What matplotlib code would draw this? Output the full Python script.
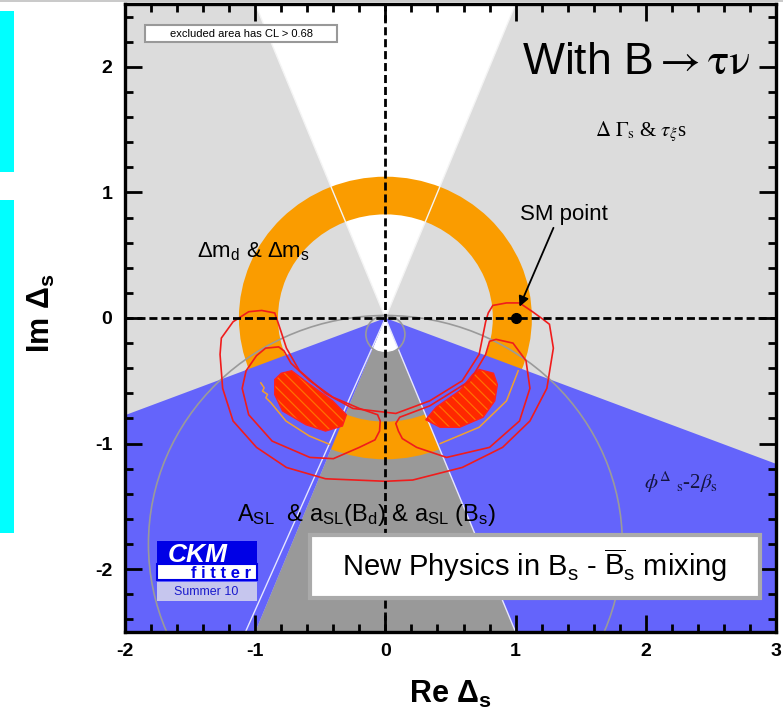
import matplotlib
matplotlib.use("Agg")
import matplotlib.pyplot as plt
import numpy as np
from matplotlib.patches import Polygon, Wedge, Circle, Annulus, Rectangle
from matplotlib.lines import Line2D
from matplotlib.ticker import MultipleLocator

plt.rcParams['font.family'] = ['Liberation Sans', 'DejaVu Sans']
plt.rcParams['axes.unicode_minus'] = False
plt.rcParams['mathtext.fontset'] = 'custom'
plt.rcParams['mathtext.rm'] = 'Liberation Sans'
plt.rcParams['mathtext.it'] = 'Liberation Sans:italic'
plt.rcParams['mathtext.bf'] = 'Liberation Sans:bold'
plt.rcParams['mathtext.sf'] = 'Liberation Sans'
plt.rcParams['hatch.linewidth'] = 0.9

# ---- data ----
xticks = [-2, -1, 0, 1, 2, 3]
yticks = [-2, -1, 0, 1, 2]
xtick_labels = ['-2', '-1', '0', '1', '2', '3']
ytick_labels = ['-2', '-1', '0', '1', '2']

top_wedge_slope = 0.4      # |x|/y of the allowed (white) wedge above
phi_slope = 0.387          # |y|/|x| of the phi_s edges (blue)
asl_slope = 0.4            # |x|/|y| of the A_SL wedge (dark grey)
asl_edge_slopes = [-0.43, 0.40]
asl_hole_radius = 0.27
dm_ring = [0.825, 1.125]   # inner / outer radius of Delta m band
big_circle = [0.0, -1.8, 1.82]
small_circle = [0.0, -0.13, 0.15]
sm_point = [1.0, 0.0]

# outer CL contour (one U-shaped band)
cont_a_x = [-0.82, -0.85, -0.95, -1.05, -1.17, -1.26, -1.27, -1.25, -1.17, -0.99, -0.76, -0.46,
            0.00, 0.21, 0.59, 0.90, 1.11, 1.24, 1.29, 1.26, 1.21, 1.13, 1.03, 0.93, 0.825, 0.79,
            0.77, 0.72, 0.59, 0.34, 0.08, -0.25, -0.46, -0.66, -0.76, -0.82]
cont_a_y = [-0.05, 0.04, 0.06, 0.05, -0.03, -0.16, -0.29, -0.56, -0.82, -1.03, -1.19, -1.28,
            -1.30, -1.29, -1.19, -1.03, -0.82, -0.56, -0.24, -0.05, -0.01, 0.05, 0.12, 0.12, 0.10, 0.04,
            -0.03, -0.29, -0.50, -0.66, -0.76, -0.72, -0.60, -0.42, -0.24, -0.05]
# middle contour, left and right loops
cont_b1_x = [-0.78, -0.82, -0.92, -0.99, -1.07, -1.10, -1.05, -0.87, -0.58, -0.40, -0.20, -0.08,
             -0.045, -0.04, -0.06, -0.20, -0.405, -0.58, -0.725, -0.78]
cont_b1_y = [-0.26, -0.23, -0.24, -0.30, -0.42, -0.56, -0.77, -0.98, -1.11, -1.12, -1.03, -0.97,
             -0.90, -0.82, -0.77, -0.72, -0.63, -0.50, -0.36, -0.26]
cont_b2_x = [0.77, 0.80, 0.85, 0.98, 1.08, 1.11, 1.03, 0.80, 0.47, 0.24, 0.13, 0.10, 0.08, 0.11,
             0.34, 0.65, 0.77]
cont_b2_y = [-0.29, -0.185, -0.17, -0.20, -0.34, -0.56, -0.82, -1.03, -1.11, -1.03, -0.96, -0.90,
             -0.84, -0.79, -0.70, -0.50, -0.29]
# filled 68% regions
blob_l_x = [-0.80, -0.72, -0.58, -0.405, -0.30, -0.33, -0.46, -0.61, -0.79, -0.85, -0.85]
blob_l_y = [-0.44, -0.42, -0.53, -0.66, -0.77, -0.86, -0.90, -0.85, -0.74, -0.61, -0.49]
blob_r_x = [0.72, 0.83, 0.86, 0.84, 0.75, 0.57, 0.42, 0.31, 0.39, 0.57, 0.67]
blob_r_y = [-0.41, -0.44, -0.53, -0.66, -0.79, -0.87, -0.87, -0.81, -0.71, -0.58, -0.45]
# thin orange edge of the Delta m band where it is hidden
arc_l_x = [-0.957, -0.931, -0.944, -0.905, -0.918, -0.879, -0.764, -0.585, -0.431]
arc_l_y = [-0.516, -0.556, -0.582, -0.608, -0.635, -0.675, -0.820, -0.939, -1.005]
arc_r_x = [1.02, 0.93, 0.72, 0.42]
arc_r_y = [-0.42, -0.66, -0.87, -1.00]

W, H = 783, 722


def fx(px):
    return px / W


def fy(py):
    return 1 - py / H


fig = plt.figure(figsize=(W / 100, H / 100), dpi=100)
ax = fig.add_axes([fx(125), 90 / H, 651 / W, 628 / H])
ax.set_facecolor('#dcdcdc')
ax.set_xlim(-2, 3)
ax.set_ylim(-2.5, 2.5)

# allowed wedge on top
ytop = 3.0
ax.add_patch(Polygon([(0, 0), (-top_wedge_slope * ytop, ytop), (top_wedge_slope * ytop, ytop)],
                     closed=True, fc='white', ec='none', zorder=0.5))
# A_SL wedge (dark grey) and its small hole near the origin
ybot = -3.0
ax.add_patch(Polygon([(0, 0), (asl_slope * ybot, ybot), (-asl_slope * ybot, ybot)],
                     closed=True, fc='#999999', ec='none', zorder=0.6))
half = np.degrees(np.arctan(asl_slope))
ax.add_patch(Wedge((0, 0), asl_hole_radius, 270 - half, 270 + half, fc='white', ec='none', zorder=0.7))

# Delta m ring
ax.add_patch(Annulus((0, 0), dm_ring[1], dm_ring[1] - dm_ring[0], fc='#fa9c00', ec='none', zorder=1))

# phi_s region (blue) drawn over the ring, outside the A_SL wedge
xl, xr = -3.0, 4.0
ax.add_patch(Polygon([(0, 0), (xl, phi_slope * xl), (xl, ybot), (asl_slope * ybot, ybot)],
                     closed=True, fc='#6464fb', ec='none', zorder=1.2))
ax.add_patch(Polygon([(0, 0), (-asl_slope * ybot, ybot), (xr, ybot), (xr, -phi_slope * xr)],
                     closed=True, fc='#6464fb', ec='none', zorder=1.2))

# light boundary lines
for s in [-top_wedge_slope, top_wedge_slope]:
    ax.plot([0, s * ytop], [0, ytop], color='#f4f4f4', lw=1.0, zorder=1.5)
for s in asl_edge_slopes:
    ax.plot([0, -s * ybot], [0, ybot], color='#e6e6ff', lw=1.0, zorder=1.5)

# grey circles
ax.add_patch(Circle((big_circle[0], big_circle[1]), big_circle[2], fill=False, ec='#9a9a9a', lw=1.2, zorder=2))
ax.add_patch(Circle((small_circle[0], small_circle[1]), small_circle[2], fill=False, ec='#9a9a9a', lw=1.2, zorder=2))

# thin orange edges
ax.plot(arc_l_x, arc_l_y, color='#f0a030', lw=1.1, zorder=2.2)
ax.plot(arc_r_x, arc_r_y, color='#f0a030', lw=1.1, zorder=2.2)

# 68% regions
for bx, by in [(blob_l_x, blob_l_y), (blob_r_x, blob_r_y)]:
    ax.add_patch(Polygon(list(zip(bx, by)), closed=True, fc='#ff2800', ec='#ff7000',
                         hatch='\\\\\\', lw=0, zorder=3))
    ax.add_patch(Polygon(list(zip(bx, by)), closed=True, fill=False, ec='#ff2020', lw=1.0, zorder=3.1))

# contours
for cx, cy in [(cont_a_x, cont_a_y), (cont_b1_x, cont_b1_y), (cont_b2_x, cont_b2_y)]:
    ax.add_patch(Polygon(list(zip(cx, cy)), closed=True, fill=False, ec='#f01c1c', lw=1.2, zorder=3.5))

# region labels
ax.text(-1.45, 0.48, r"$\Delta$m$_{\rm d}$ & $\Delta$m$_{\rm s}$", fontsize=16, zorder=4)
ax.text(-1.14, -1.62, r"A$_{\rm SL}$  & a$_{\rm SL}$(B$_{\rm d}$) & a$_{\rm SL}$ (B$_{\rm s}$)",
        fontsize=17, zorder=4)
ax.text(1.61, 1.45, r"$\Delta\ \Gamma_{\rm s}$ & $\tau_{\xi}$s", fontsize=15,
        family=['Liberation Serif', 'DejaVu Serif'], math_fontfamily='stix', zorder=4)
ax.text(1.99, -1.36, r"$\phi^{\Delta}$ $_{\rm s}$-2$\beta_{\rm s}$", fontsize=15, color='#141440',
        family=['Liberation Serif', 'DejaVu Serif'], math_fontfamily='stix', zorder=4)
ax.text(1.05, 1.94, r"With B$\rightarrow\mathrm{\tau\nu}$", fontsize=32, math_fontfamily='stix', zorder=4)

# dashed axes through the origin
ax.axhline(0, color='black', lw=2.0, ls=(0, (2.9, 1.4)), zorder=5)
ax.axvline(0, color='black', lw=2.0, ls=(0, (2.9, 1.4)), zorder=5)

# SM point
ax.plot(sm_point[0], sm_point[1], 'o', color='black', ms=7, zorder=6)
ax.annotate("SM point", xy=(1.03, 0.09), xytext=(1.03, 0.78), fontsize=16, zorder=6,
            arrowprops=dict(arrowstyle='-|>', color='black', lw=1.3, mutation_scale=15,
                            shrinkA=0, shrinkB=0, relpos=(0.4, 0.0)))

# ticks and spines
ax.set_xticks(xticks)
ax.set_yticks(yticks)
ax.set_xticklabels(xtick_labels, fontsize=14, fontweight='bold')
ax.set_yticklabels(ytick_labels, fontsize=14, fontweight='bold')
ax.xaxis.set_minor_locator(MultipleLocator(0.2))
ax.yaxis.set_minor_locator(MultipleLocator(0.2))
ax.tick_params(which='both', direction='in', top=True, right=True, width=2.0)
ax.tick_params(which='major', length=12)
ax.tick_params(which='minor', length=6)
ax.tick_params(axis='x', pad=8)
ax.tick_params(axis='y', pad=9)
for sp in ax.spines.values():
    sp.set_linewidth(2.4)
    sp.set_zorder(10)
ax.xaxis.set_zorder(9)
ax.yaxis.set_zorder(9)

# axis labels
fig.text(fx(450), fy(703), r"$\mathbf{Re\ \Delta_s}$", fontsize=22, ha='center', va='baseline')
fig.text(fx(41), fy(313), r"$\mathbf{Im\ \Delta_s}$", fontsize=22, ha='center', va='center', rotation=90)

# boxes
fig.add_artist(Rectangle((fx(145), fy(42)), 192 / W, 17 / H, fc='white', ec='#999999', lw=1.5,
                         transform=fig.transFigure, zorder=5))
fig.text(fx(241), fy(34), "excluded area has CL > 0.68", fontsize=8, ha='center', va='center', zorder=6)

fig.add_artist(Rectangle((fx(310), fy(598)), 450 / W, 63 / H, fc='white', ec='#aaaaaa', lw=3,
                         transform=fig.transFigure, zorder=5))
fig.text(fx(535), fy(576), r"New Physics in B$_{\rm s}$ - $\overline{\rm B}_{\rm s}$ mixing",
         fontsize=21, ha='center', va='baseline', zorder=6)

# CKMfitter logo
fig.add_artist(Rectangle((fx(157), fy(564)), 100 / W, 23 / H, fc='#0000e6', ec='none',
                         transform=fig.transFigure, zorder=5))
fig.add_artist(Rectangle((fx(157), fy(580)), 100 / W, 16 / H, fc='white', ec='#0000e6', lw=1.5,
                         transform=fig.transFigure, zorder=5))
fig.add_artist(Rectangle((fx(157), fy(601)), 100 / W, 19 / H, fc='#c6c6ee', ec='none',
                         transform=fig.transFigure, zorder=5))
fig.text(fx(168), fy(562), "CKM", color='white', fontsize=19, fontweight='bold', fontstyle='italic',
         va='baseline', zorder=6)
fig.text(fx(251), fy(578), "f i t t e r", color='#0000e6', fontsize=12, fontweight='bold',
         ha='right', va='baseline', zorder=6)
fig.text(fx(206), fy(592), "Summer 10", color='#1a1acc', fontsize=9, ha='center', va='center', zorder=6)

# side markers and top rule
fig.add_artist(Rectangle((0, fy(172)), 14 / W, 161 / H, fc='#00ffff', ec='none', transform=fig.transFigure))
fig.add_artist(Rectangle((0, fy(533)), 14 / W, 333 / H, fc='#00ffff', ec='none', transform=fig.transFigure))
fig.add_artist(Line2D([0, 1], [fy(0.6), fy(0.6)], color='#c0c0c0', lw=1.2, transform=fig.transFigure))

fig.savefig('out.png', dpi=100)
